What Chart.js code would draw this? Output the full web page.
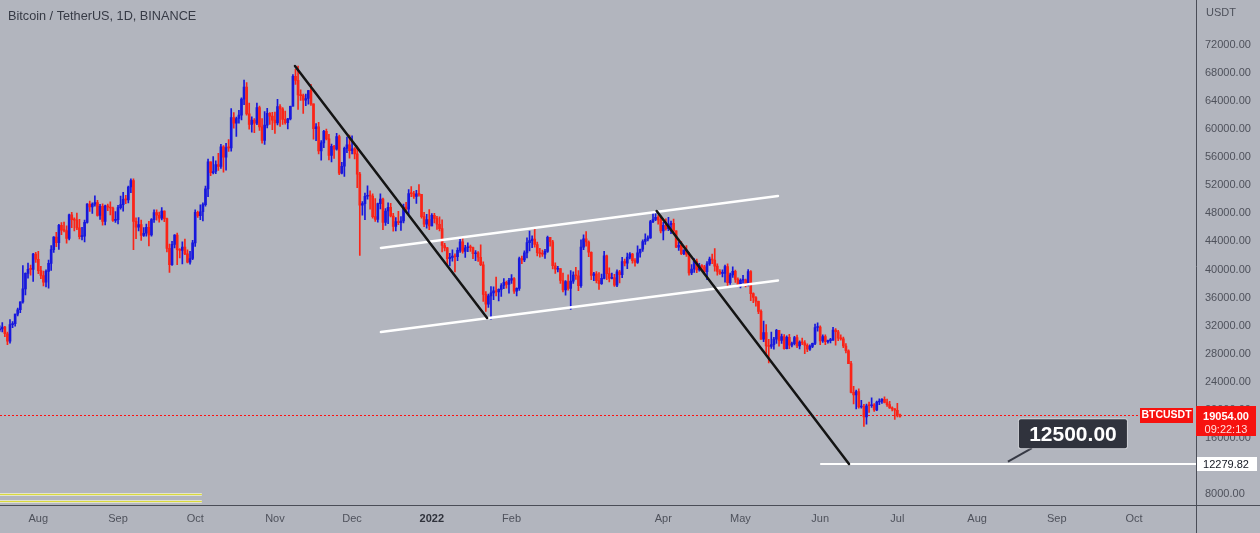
<!DOCTYPE html>
<html><head><meta charset="utf-8">
<script src="https://cdn.jsdelivr.net/npm/chart.js@4.4.1/dist/chart.umd.min.js"></script>
<style>html,body{margin:0;padding:0;background:#b2b5be;overflow:hidden}canvas{display:block}</style>
</head><body>
<canvas id="c" width="1260" height="533"></canvas>
<script>
// ---------- DATA (BTCUSDT daily, Binance) ----------
const title = 'Bitcoin / TetherUS, 1D, BINANCE';
const currency = 'USDT';
const symbol = 'BTCUSDT';
const firstDate = '2021-07-17';
const open = [
31383,31521,31778,30839,29791,32144,32287,33634,34258,35381,37237,39457,40019,40016,42206,
41461,39846,39147,38207,39723,40862,42836,44614,43830,46285,45595,45555,44428,47793,47096,47047,45936,44686,44742,46723,49339,48905,49321,49546,47707,48993,46843,49069,48895,48767,46991,
47100,48810,49246,49999,49915,51756,52663,46863,46048,46395,44850,45173,46026,44941,47111,48122,47737,47300,48313,47261,43012,40694,43574,44896,42840,42716,43208,42235,41034,41564,
43790,48165,47657,48233,49245,51494,55340,53805,53967,54963,54691,57485,56006,57367,57347,61672,60875,61528,62010,64281,66001,62193,60688,61286,60852,63079,60328,58413,60575,62253,61859,
61299,60911,63219,62896,61395,60937,61470,63273,67525,66947,64882,64774,64122,64380,65519,63606,60058,60344,56891,58052,59707,58622,56247,57541,57138,58960,53726,54721,57274,57776,
56950,57184,56480,53601,49152,49396,50441,50588,50471,47545,47140,49389,50053,46702,48343,48864,47632,46131,46834,46681,46914,48889,48588,50838,50820,50400,50775,50701,47543,46464,47120,
46216,47722,47286,46446,45833,43425,43083,41557,41734,41912,41821,42736,43946,42592,43099,43177,43113,42250,42375,41744,40681,36445,35071,36244,36660,36958,36809,37160,37716,38166,37881,
38466,38690,36896,37311,41574,41382,42380,43840,44118,44338,43565,42407,42244,42197,42586,44575,43961,40538,40030,40122,38431,37075,38286,37296,38332,39214,39105,37709,
43193,44354,43924,42455,39148,39397,38420,37988,38730,41941,39422,38730,38807,37777,39671,39280,41114,40917,41757,42201,41262,41002,42364,42882,43991,44313,44511,46827,47122,47434,47067,
45510,46283,45811,46407,46580,45497,43170,43444,42252,42753,42158,39530,40074,41147,39942,40552,40378,39678,40802,41500,41358,40480,39709,39441,39450,40426,38112,39235,39742,38596,
37630,38468,38525,37729,39690,36552,36013,35472,34039,30076,31017,29104,29030,29287,30086,31329,29874,30444,28715,30319,29201,29445,30293,29109,29655,29542,29201,28629,29031,29468,31734,
31801,29805,30452,29700,29865,29919,31373,31125,30204,30109,29091,28424,26574,22487,22136,22583,20401,20468,18970,20574,20573,20723,19987,21110,21237,21492,21038,20742,20281,20123,
19942,19279];
const high = [
31955,32435,31899,31063,32858,32591,33650,34500,35398,40550,39542,40900,40640,42320,42448,
42599,40459,39780,39969,41350,43392,44700,45310,46456,46700,46743,46218,47886,48144,47372,48053,47160,46000,47033,49382,49757,49500,50500,49875,49300,49349,49185,49309,49643,48888,48246,
49156,50450,51000,50558,51900,52920,52920,47359,47399,47033,45987,46460,46876,47250,48500,48500,48176,48843,48372,47347,43640,44000,44978,45200,42970,43937,44350,42787,42590,44141,
48495,48336,49228,49500,51886,55750,55340,56100,55489,56545,57839,57680,58000,58532,62933,62378,61718,62695,64486,67000,66639,63732,61747,61500,63710,63293,61496,62499,62980,62359,62405,
62437,64270,63500,63086,62595,61560,63286,67789,68530,69000,65600,65000,65000,65550,66401,63616,60800,60976,58373,59845,60029,59266,57875,57700,59398,59150,55281,57445,58865,59176,
59053,57375,57600,53859,49699,50891,51936,51200,50797,50125,49485,50777,50189,48700,49500,49436,47995,47392,48300,47537,49328,49576,51375,51810,51156,51280,52088,50704,48139,47879,48548,
47954,47990,47570,47505,47070,43748,43145,42300,42786,42249,43100,44322,44459,43448,43800,43476,43179,42691,42559,43505,41100,36835,36499,37550,37545,38919,37234,38000,38720,38359,38744,
39265,38855,37387,41772,41913,42656,44500,45492,44799,45821,43920,43000,42760,42876,44771,44578,44164,40959,40444,40125,39494,38429,39249,39843,39683,40300,39855,44225,
44949,45400,44101,42527,39613,39693,39547,39362,42594,42039,40236,39486,39310,39947,39887,41718,41478,42325,42400,42296,41544,43361,42893,44220,45094,44792,46999,48190,48097,47700,47600,
46720,47213,47444,46890,47200,45507,43900,43970,42800,43410,42414,40699,41561,41500,40870,40709,40595,41116,41760,42199,42976,40795,39980,39940,40617,40797,39474,40372,39925,38795,
38675,39167,38651,39980,39845,36675,36146,35514,34243,32658,32162,30032,31083,30343,31460,31329,30788,30709,30545,30777,29656,30487,30670,29845,30223,29856,29397,29250,29500,32222,32399,
31982,30690,30675,29950,30189,31765,31589,31327,30700,30383,29440,28544,26895,23363,22800,22980,21365,20792,20815,21090,21723,20900,21233,21558,21614,21868,21540,21200,20432,20179,
20918,19400];
const low = [
31164,31109,30408,29278,29482,31708,31925,33401,33851,35206,36383,38772,39200,38313,41000,
39422,38690,37642,37508,37332,39853,42450,43261,42848,44982,45341,43770,44217,45971,45500,45660,44376,44203,43927,46616,48273,48004,49030,47600,47136,46315,46364,48370,47762,46853,46700,
46512,48584,48316,49400,49500,50969,42843,44412,45514,44132,44722,44742,43370,44750,46700,47020,46750,47050,46829,42500,39600,40574,43069,40675,41646,40803,42098,40931,40753,41410,
43283,47430,47119,46928,49022,50382,53357,53617,53661,54112,54416,53879,54167,56819,56850,60150,58963,60840,61322,63482,62000,60000,59562,59510,60650,59817,58000,57820,60174,60673,59945,
59405,60624,60382,60677,60721,60050,61322,63273,66382,62822,64100,62250,63360,63576,63400,58574,58373,56474,55600,57353,58486,55610,55317,55837,57000,53500,53610,53256,56666,55875,
56458,55777,51680,42000,47727,47100,50039,48600,47320,46852,46751,48638,45672,46290,46547,47511,45456,45500,46406,45558,46630,48421,47920,50384,50142,49412,50449,47313,46096,45900,45678,
46208,46654,45696,45502,42500,42645,40610,40501,41200,39650,41268,42450,42311,41725,42555,42581,41540,41250,41138,40553,35440,34008,34601,32917,35701,36234,35507,36155,37268,37351,36632,
38000,36586,36250,37026,40843,41116,41645,42666,43117,43174,41938,41748,41870,41570,42427,43311,40073,39450,39639,38000,36800,36350,37036,34322,38014,38600,37000,37450,
42809,43334,41832,38550,38407,38088,37155,37867,38656,38539,38223,38660,37578,37555,38098,38828,40500,40135,41499,40911,40467,40875,41751,42560,43579,44072,44421,46663,46950,46445,45200,
44200,45620,45530,45118,45353,43121,42727,42107,42125,41868,39200,39254,39588,39551,39766,39991,39546,38536,40571,40820,39751,39177,39285,38929,38200,37702,37881,38881,38175,37578,
37386,38052,37517,37670,35571,35258,34785,33713,30033,29730,27785,26700,28751,28630,29480,29087,29450,28654,28670,28730,28947,29255,28866,28669,29294,28019,28282,28450,28843,29299,31200,
29300,29594,29282,29485,29531,29890,29218,29843,29944,28850,28100,26560,22400,20846,20111,20232,20246,17622,17960,19637,20348,19770,19890,20740,20906,21000,20500,20188,19854,18626,
18975,18966];
const close = [
31521,31778,30839,29791,32144,32287,33634,34258,35381,37237,39457,40019,40016,42206,41461,
39846,39147,38207,39723,40862,42836,44614,43830,46285,45595,45555,44428,47793,47096,47047,45936,44686,44742,46723,49339,48905,49321,49546,47707,48993,46843,49069,48895,48767,46991,47100,
48810,49246,49999,49915,51756,52663,46863,46048,46395,44850,45173,46026,44941,47111,48122,47737,47300,48313,47261,43012,40694,43574,44896,42840,42716,43208,42235,41034,41564,43790,
48165,47657,48233,49245,51494,55340,53805,53967,54963,54691,57485,56006,57367,57347,61672,60875,61528,62010,64281,66001,62193,60688,61286,60852,63079,60328,58413,60575,62253,61859,61299,
60911,63219,62896,61395,60937,61470,63273,67525,66947,64882,64774,64122,64380,65519,63606,60058,60344,56891,58052,59707,58622,56247,57541,57138,58960,53726,54721,57274,57776,56950,
57184,56480,53601,49152,49396,50441,50588,50471,47545,47140,49389,50053,46702,48343,48864,47632,46131,46834,46681,46914,48889,48588,50838,50820,50400,50775,50701,47543,46464,47120,46216,
47722,47286,46446,45833,43425,43083,41557,41734,41912,41821,42736,43946,42592,43099,43177,43113,42250,42375,41744,40681,36445,35071,36244,36660,36958,36809,37160,37716,38166,37881,38466,
38690,36896,37311,41574,41382,42380,43840,44118,44338,43565,42407,42244,42197,42586,44575,43961,40538,40030,40122,38431,37075,38286,37296,38332,39214,39105,37709,43193,
44354,43924,42455,39148,39397,38420,37988,38730,41941,39422,38730,38807,37777,39671,39280,41114,40917,41757,42201,41262,41002,42364,42882,43991,44313,44511,46827,47122,47434,47067,45510,
46283,45811,46407,46580,45497,43170,43444,42252,42753,42158,39530,40074,41147,39942,40552,40378,39678,40802,41500,41358,40480,39709,39441,39450,40426,38112,39235,39742,38596,37630,
38468,38525,37729,39690,36552,36013,35472,34039,30076,31017,29104,29030,29287,30086,31329,29874,30444,28715,30319,29201,29445,30293,29109,29655,29542,29201,28629,29031,29468,31734,31801,
29805,30452,29700,29865,29919,31373,31125,30204,30109,29091,28424,26574,22487,22136,22583,20401,20468,18970,20574,20573,20723,19987,21110,21237,21492,21038,20742,20281,20123,19942,
19279,19054];

const yTicks = [8000,12000,16000,20000,24000,28000,32000,36000,40000,44000,48000,52000,56000,60000,64000,68000,72000];
const monthTickDates = ['2021-08-01','2021-09-01','2021-10-01','2021-11-01','2021-12-01','2022-01-01','2022-02-01','2022-04-01','2022-05-01','2022-06-01','2022-07-01','2022-08-01','2022-09-01','2022-10-01'];
const monthLabels = ['Aug','Sep','Oct','Nov','Dec','2022','Feb','Apr','May','Jun','Jul','Aug','Sep','Oct'];

const lastPrice = 19054.00;
const countdown = '09:22:13';
const supportLevel = 12279.82;
const calloutText = '12500.00';
const calloutPoint = ['2022-08-13', 12600];
// drawn trend lines [date, price]
const blackLine1 = [['2021-11-08T19:00', 69000], ['2022-01-22T12:00', 33100]];
const blackLine2 = [['2022-03-29T10:00', 48340], ['2022-06-12T05:00', 12280]];
const channelUpper = [['2021-12-12T05:00', 43070], ['2022-05-15T14:00', 50480]];
const channelLower = [['2021-12-12T05:00', 31090], ['2022-05-15T14:00', 38430]];
const supportStart = '2022-06-01T07:00';
const yellowLevels = [8000, 7050];
const yellowEnd = '2021-10-03T14:00';

// ---------- HELPERS ----------
const ORIGIN = Date.parse('2021-08-01T00:00:00Z');
const dayOf = s => (Date.parse(s.length === 10 ? s + 'T00:00:00Z' : s + ':00Z') - ORIGIN) / 86400000;
// layout targets: 72000 -> y 45, 8000 -> y 494 ; day 0 (Aug 1 2021) -> x 38.3, 2.572 px/day
const PX_PER_PRICE = 449 / 64000, X0 = 38.3, PX_PER_DAY = 2.572;
const UP = '#1818dc', DOWN = '#fa2418', RED = '#f7120f';
const TICK_COLOR = '#4e515b';
const FONT = '"Liberation Sans", Arial, sans-serif';

const d0 = dayOf(firstDate);
const colors = close.map((c, i) => c >= open[i] ? UP : DOWN);
const bodies = close.map((c, i) => ({x: d0 + i, y: [open[i], c]}));
const wicks = close.map((c, i) => ({x: d0 + i, y: [low[i], high[i]]}));
const seg = pts => pts.map(([d, p]) => ({x: dayOf(d), y: p}));
const lineDs = (pts, color, w) => ({type: 'line', data: pts, borderColor: color, borderWidth: w, pointRadius: 0, tension: 0, borderCapStyle: 'round', order: 0});

const overlay = {
  id: 'overlay',
  beforeDraw(chart) {
    const {ctx} = chart;
    ctx.save(); ctx.fillStyle = '#b2b5be'; ctx.fillRect(0, 0, chart.width, chart.height); ctx.restore();
  },
  beforeDatasetsDraw(chart) {
    const {ctx, chartArea: a, scales: {x, y}} = chart;
    ctx.save();
    const yp = Math.round(y.getPixelForValue(lastPrice)) - 0.5;
    ctx.strokeStyle = '#ff1010'; ctx.lineWidth = 1; ctx.setLineDash([2, 2]);
    ctx.beginPath(); ctx.moveTo(0, yp); ctx.lineTo(a.right - 56, yp); ctx.stroke();
    ctx.setLineDash([]);
    const xe = x.getPixelForValue(dayOf(yellowEnd));
    yellowLevels.forEach(v => {
      const py = Math.round(y.getPixelForValue(v)) + 0.5;
      ctx.strokeStyle = 'rgba(232,232,205,0.9)'; ctx.lineWidth = 3;
      ctx.beginPath(); ctx.moveTo(0, py); ctx.lineTo(xe, py); ctx.stroke();
      ctx.strokeStyle = '#dada3c'; ctx.lineWidth = 1;
      ctx.beginPath(); ctx.moveTo(0, py); ctx.lineTo(xe, py); ctx.stroke();
    });
    ctx.restore();
  },
  afterDraw(chart) {
    const {ctx, chartArea: a, scales: {x, y}} = chart;
    const W = chart.width, H = chart.height;
    ctx.save();
    ctx.strokeStyle = '#4a4d57'; ctx.lineWidth = 1;
    ctx.beginPath();
    ctx.moveTo(a.right + 0.5, 0); ctx.lineTo(a.right + 0.5, H);
    ctx.moveTo(0, a.bottom - 0.5); ctx.lineTo(W, a.bottom - 0.5);
    ctx.stroke();
    ctx.textBaseline = 'middle'; ctx.textAlign = 'left';
    ctx.font = '12.7px ' + FONT; ctx.fillStyle = '#363a45';
    ctx.fillText(title, 8, 16);
    ctx.font = '11px ' + FONT; ctx.fillStyle = TICK_COLOR;
    ctx.fillText(currency, a.right + 10, 13);
    const yp = Math.round(y.getPixelForValue(lastPrice));
    ctx.fillStyle = RED;
    ctx.fillRect(a.right - 56, yp - 8, 53, 15);
    ctx.fillRect(a.right, yp - 10, 60, 30);
    ctx.fillStyle = '#ffffff'; ctx.textAlign = 'center';
    ctx.font = 'bold 10.5px ' + FONT;
    ctx.fillText(symbol, a.right - 29.5, yp - 0.5);
    ctx.font = 'bold 11px ' + FONT;
    ctx.fillText(lastPrice.toFixed(2), a.right + 30, yp + 0.5);
    ctx.font = '11px ' + FONT; ctx.fillStyle = '#ffe0e0';
    ctx.fillText(countdown, a.right + 30, yp + 13.5);
    const ys = Math.round(y.getPixelForValue(supportLevel));
    ctx.fillStyle = '#ffffff';
    ctx.fillRect(a.right + 1, ys - 7, 60, 14);
    ctx.fillStyle = '#131722'; ctx.font = '11px ' + FONT;
    ctx.fillText(supportLevel.toFixed(2), a.right + 30, ys + 0.5);
    const tx = x.getPixelForValue(dayOf(calloutPoint[0])), ty = y.getPixelForValue(calloutPoint[1]);
    const bx = tx + 11, by = ty - 42.5, bw = 108, bh = 29;
    ctx.strokeStyle = '#363944'; ctx.lineWidth = 2;
    ctx.beginPath(); ctx.moveTo(tx + 24, by + bh); ctx.lineTo(tx, ty); ctx.stroke();
    ctx.fillStyle = '#30333d';
    ctx.beginPath(); ctx.roundRect(bx, by, bw, bh, 2); ctx.fill();
    ctx.strokeStyle = 'rgba(255,255,255,0.35)'; ctx.lineWidth = 1;
    ctx.beginPath(); ctx.roundRect(bx - 0.5, by - 0.5, bw + 1, bh + 1, 2); ctx.stroke();
    ctx.fillStyle = '#ffffff'; ctx.font = 'bold 21px ' + FONT;
    ctx.fillText(calloutText, bx + bw / 2, by + bh / 2 + 1);
    ctx.restore();
  }
};

const chart = new Chart(document.getElementById('c'), {
  type: 'bar',
  data: {
    datasets: [
      lineDs(seg(blackLine1), '#141414', 2.5),
      lineDs(seg(blackLine2), '#141414', 2.5),
      lineDs(seg(channelUpper), '#ffffff', 2.5),
      lineDs(seg(channelLower), '#ffffff', 2.5),
      lineDs([{x: dayOf(supportStart), y: supportLevel}, {x: 1000, y: supportLevel}], '#ffffff', 2),
      {type: 'bar', data: wicks, backgroundColor: colors, barThickness: 1, grouped: false, borderWidth: 0, order: 2},
      {type: 'bar', data: bodies, backgroundColor: colors, barThickness: 2, grouped: false, borderWidth: 0, minBarLength: 1, order: 1}
    ]
  },
  options: {
    responsive: false, animation: false, devicePixelRatio: 1,
    layout: {padding: 0, autoPadding: false},
    plugins: {legend: {display: false}, tooltip: {enabled: false}},
    scales: {
      x: {
        type: 'linear', min: -14.89, max: 450.1, offset: false,
        grid: {display: false, drawTicks: false}, border: {display: false},
        afterBuildTicks: s => { s.ticks = monthTickDates.map(d => ({value: dayOf(d)})); },
        afterFit: s => { s.height = 27; },
        ticks: {
          autoSkip: false, maxRotation: 0, padding: 6,
          color: c => (monthLabels[c.index] === '2022' ? '#2f323b' : TICK_COLOR),
          font: c => ({family: FONT, size: 11, weight: monthLabels[c.index] === '2022' ? 'bold' : 'normal'}),
          callback: (v, i) => monthLabels[i]
        }
      },
      y: {
        position: 'right', min: 6289.5, max: 78414,
        grid: {display: false, drawTicks: false}, border: {display: false},
        afterBuildTicks: s => { s.ticks = yTicks.map(v => ({value: v})); },
        afterFit: s => { s.width = 64; },
        ticks: {padding: 9, color: TICK_COLOR, font: {family: FONT, size: 11}, callback: v => Number(v).toFixed(2)}
      }
    }
  },
  plugins: [overlay]
});
// second pass: fit the value ranges to the actual chart area so the axes land where the reference has them
const ca = chart.chartArea;
chart.options.scales.y.max = 72000 + (45 - ca.top) / PX_PER_PRICE;
chart.options.scales.y.min = 8000 - (ca.bottom - 494) / PX_PER_PRICE;
chart.options.scales.x.min = (ca.left - X0) / PX_PER_DAY;
chart.options.scales.x.max = (ca.right - X0) / PX_PER_DAY;
chart.update();
</script>
</body></html>
